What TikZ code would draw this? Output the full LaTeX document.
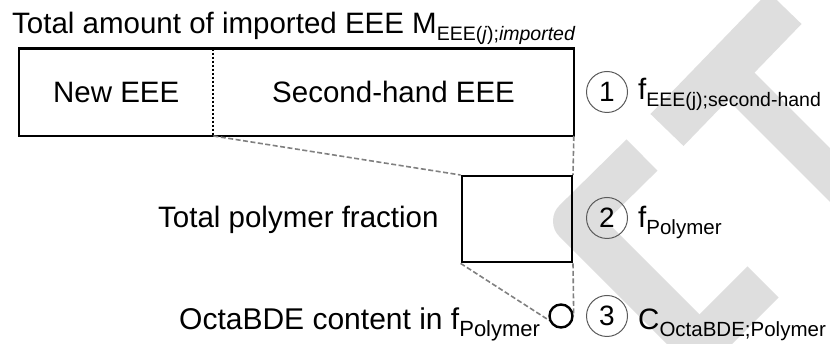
\documentclass[tikz,border=0pt]{standalone}
\usepackage{fontspec}
\setmainfont{Liberation Sans}
\usepackage{xcolor}
\usepackage{tikz}
\usetikzlibrary{positioning,calc}

\definecolor{wmgray}{RGB}{222,222,222}
\definecolor{dashgray}{RGB}{128,128,128}
\definecolor{ringgray}{RGB}{90,90,90}

\newcommand{\subtxt}[2][19.5]{\raisebox{-7pt}{\fontsize{#1}{22}\selectfont #2}}

\tikzset{
  lbl/.style={font=\fontsize{29.5}{32}\selectfont, inner sep=0pt},
  boxline/.style={draw=black, line width=2.4pt},
  divline/.style={draw=black, line width=2pt, dash pattern=on 2pt off 2pt},
  linkline/.style={draw=dashgray, line width=1.6pt, dash pattern=on 5pt off 2.5pt},
  numc/.style={circle, draw=ringgray, line width=1pt, minimum size=41pt, inner sep=0pt,
    font=\fontsize{28}{28}\selectfont},
  wmband/.style={draw=wmgray, line join=round}
}

\begin{document}
\begin{tikzpicture}[x=1pt,y=1pt]
  \useasboundingbox (0,0) rectangle (830,344);

  % watermark bands
  \draw[wmband, line width=46pt] (667,214) -- (785,336);
  \draw[wmband, line width=38pt] (725,274) -- (880,119);
  \draw[wmband, line width=44pt] (642,189) -- (575,123) -- (720,-22);
  \draw[wmband, line width=44pt] (763,62) -- (680,-21);

  % title
  \node[lbl, anchor=base west] (title) at (12,310)
    {Total amount of imported EEE M\subtxt{EEE(\textit{j});\textit{imported}}};

  % top box: new / second-hand
  \node[lbl, minimum width=194pt, minimum height=87pt, anchor=south west] (new) at (19,208) {New EEE};
  \node[lbl, minimum width=360pt, minimum height=87pt, anchor=south west] (second) at (new.south east) {Second-hand EEE};
  \draw[boxline] (new.north west) rectangle (second.south east);
  \draw[divline] (new.north east) -- (new.south east);

  % polymer fraction
  \node[boxline, minimum width=110pt, minimum height=86pt, inner sep=0pt, anchor=north east] (poly) at (573,169) {};
  \node[lbl, anchor=base west] (polylbl) at (158,116) {Total polymer fraction};

  % octaBDE content
  \node[circle, draw=black, line width=2.4pt, minimum size=23pt, inner sep=0pt] (octa) at (561,28) {};
  \node[lbl, anchor=base west, font=\fontsize{30}{32}\selectfont] (octalbl) at (179,14)
    {OctaBDE content in f\subtxt[22]{Polymer}};

  % links
  \draw[linkline] (new.south east) -- (poly.north west);
  \draw[linkline] (second.south east) -- (poly.north east);
  \draw[linkline] (poly.south west) -- (octa.200);
  \draw[linkline] (poly.south east) -- (octa.east);

  % numbered steps
  \node[numc] (s1) at (607,252) {1};
  \node[numc] (s2) at (607,126) {2};
  \node[numc] (s3) at (607,28) {3};
  \node[lbl, anchor=base west] (f1) at (638,244) {f\subtxt[19.5]{EEE(j);second-hand}};
  \node[lbl, anchor=base west] (f2) at (638,116) {f\subtxt[20.5]{Polymer}};
  \node[lbl, anchor=base west] (c3) at (638,14) {C\subtxt[20.5]{OctaBDE;Polymer}};
\end{tikzpicture}
\end{document}
